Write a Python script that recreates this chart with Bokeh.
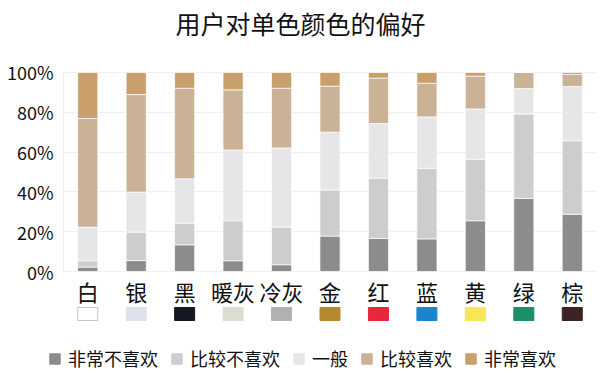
from bokeh.plotting import figure
from bokeh.layouts import column
from bokeh.models import Range1d, FactorRange, FixedTicker, Legend, LegendItem, Label, ColumnDataSource
from bokeh.core.properties import value
from bokeh.embed import file_html
from bokeh.resources import INLINE

FONT = "Noto Sans CJK SC"

categories = ["白", "银", "黑", "暖灰", "冷灰", "金", "红", "蓝", "黄", "绿", "棕"]
swatch_colors = ["#ffffff", "#dde3ec", "#141820", "#dcdcd2", "#b1b1b3", "#b58a2e",
                 "#e8283a", "#1a85cc", "#f7e65a", "#1a8f68", "#3d2424"]
series = ["非常不喜欢", "比较不喜欢", "一般", "比较喜欢", "非常喜欢"]
series_colors = ["#8c8b8d", "#cdccce", "#e6e6e8", "#c9b296", "#c9a06b"]

very_dislike = [2.2, 5.5, 13.4, 5.4, 3.4, 17.8, 16.6, 16.4, 25.5, 36.7, 28.8]
dislike = [3.2, 14.3, 10.9, 20.1, 18.9, 23.2, 30.3, 35.5, 30.9, 42.4, 36.9]
neutral = [16.9, 20.1, 22.3, 35.6, 39.8, 29.0, 27.5, 25.8, 25.3, 12.9, 27.3]
like = [54.6, 49.0, 45.5, 30.2, 30.0, 23.1, 22.8, 16.9, 16.5, 8.0, 6.0]
very_like = [23.1, 11.1, 7.9, 8.7, 7.9, 6.9, 2.8, 5.4, 1.8, 0.0, 1.0]

yticks = [0, 0.2, 0.4, 0.6, 0.8, 1.0]
ytick_labels = {0: "0%", 0.2: "20%", 0.4: "40%", 0.6: "60%", 0.8: "80%", 1.0: "100%"}

data = {"cat": categories}
for name, vals in zip(series, [very_dislike, dislike, neutral, like, very_like]):
    data[name] = [v / 100.0 for v in vals]
data["label_y"] = [-0.0955] * len(categories)
data["swatch_y"] = [-0.2136] * len(categories)
data["swatch_color"] = swatch_colors
data["swatch_line"] = ["#c4c4c4" if c == "#ffffff" else c for c in swatch_colors]
src = ColumnDataSource(data)

W, H = 600, 335
p = figure(width=W, height=H, output_backend="svg", toolbar_location=None,
           x_range=FactorRange(*categories, range_padding=0),
           y_range=Range1d(-0.3216, 1.3618),
           min_border_left=63, min_border_right=4, min_border_top=0, min_border_bottom=0)
p.frame_align = False
p.outline_line_color = None
p.xaxis.visible = False
p.xgrid.visible = False

p.yaxis.ticker = FixedTicker(ticks=yticks)
p.yaxis.major_label_overrides = ytick_labels
p.yaxis.major_label_text_font = FONT
p.yaxis.major_label_text_font_size = "18px"
p.yaxis.major_label_text_color = "#111111"
p.yaxis.major_tick_line_color = None
p.yaxis.minor_tick_line_color = None
p.yaxis.major_tick_out = 0
p.yaxis.major_tick_in = 0
p.yaxis.minor_tick_out = 0
p.yaxis.axis_line_color = "#f0f0f0"
p.yaxis.bounds = (0, 1)
p.yaxis.major_label_standoff = 10
p.ygrid.grid_line_color = "#f0f0f0"
p.ygrid.grid_line_width = 1

rs = p.vbar_stack(series, x="cat", width=0.415, color=series_colors, source=src,
                  line_color="white", line_width=0.7)

p.text(x="cat", y="label_y", text="cat", source=src, text_font=value(FONT),
       text_font_size="22px", text_align="center", text_baseline="middle", text_color="#111111")
p.rect(x="cat", y="swatch_y", width=20, height=13, width_units="screen", height_units="screen",
       fill_color="swatch_color", line_color="swatch_line", line_width=1, source=src)

title = Label(x=237, y=H - 22, x_units="screen", y_units="screen", text="用户对单色颜色的偏好",
              text_font=FONT, text_font_size="25px", text_align="center", text_baseline="middle",
              text_color="#111111")
p.add_layout(title)

# legend strip
LH = 46
q = figure(width=W, height=LH, output_backend="svg", toolbar_location=None,
           x_range=Range1d(0, W), y_range=Range1d(0, LH),
           x_axis_location=None, y_axis_location=None,
           min_border_left=0, min_border_right=0, min_border_top=0, min_border_bottom=0)
q.frame_align = False
q.grid.visible = False
q.outline_line_color = None
dummy = [q.vbar(x=[-100], top=[0], width=1, fill_color=c, line_color=c) for c in series_colors]
items = [LegendItem(label=s, renderers=[r]) for s, r in zip(series, dummy)]
legend = Legend(items=items, orientation="horizontal", location=(48, 10),
                glyph_width=13, glyph_height=13, label_standoff=7, spacing=12,
                label_text_font=FONT, label_text_font_size="18px", label_text_color="#111111",
                padding=0, margin=0, border_line_color=None, background_fill_alpha=0,
                label_height=20)
q.add_layout(legend)

layout = column(p, q, spacing=0)
open("out.html", "w").write(file_html(layout, INLINE))
